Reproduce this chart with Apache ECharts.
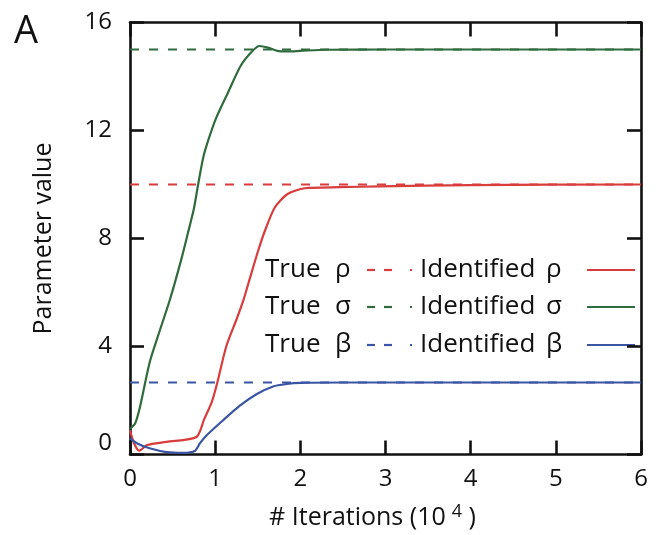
<!DOCTYPE html>
<html><head><meta charset="utf-8">
<script src="https://cdn.jsdelivr.net/npm/echarts@6/dist/echarts.min.js"></script>
<style>html,body{margin:0;padding:0;background:#fff}#c{width:666px;height:535px}</style>
</head><body><div id="c"></div>
<script>
// ---- data ----
const xTicks = [0, 1, 2, 3, 4, 5, 6];
const yTicks = [0, 4, 8, 12, 16];
const trueRho = 10, trueSigma = 15, trueBeta = 8 / 3;
const sigmaX = [0, 0.06, 0.12, 0.23, 0.33, 0.47, 0.6, 0.68, 0.75, 0.8, 0.86, 0.92, 1.01, 1.15, 1.3, 1.44, 1.52, 1.62, 1.73, 1.85, 2.0, 2.3, 3, 4, 5, 6];
const sigmaY = [0.96, 1.15, 1.8, 3.4, 4.4, 5.75, 7.2, 8.2, 9.1, 10.0, 11.0, 11.65, 12.45, 13.4, 14.4, 14.95, 15.13, 15.07, 14.95, 14.93, 14.95, 14.99, 15, 15, 15, 15];
const rhoX = [0, 0.05, 0.11, 0.2, 0.43, 0.78, 0.87, 0.96, 1.02, 1.13, 1.25, 1.33, 1.41, 1.5, 1.58, 1.7, 1.85, 2.05, 2.46, 2.93, 4, 6];
const rhoY = [0.9, 0.4, 0.14, 0.35, 0.47, 0.65, 1.3, 1.94, 2.6, 4.0, 5.0, 5.7, 6.55, 7.5, 8.25, 9.15, 9.65, 9.86, 9.9, 9.93, 9.98, 10];
const betaX = [0, 0.08, 0.23, 0.43, 0.62, 0.76, 0.82, 0.9, 1.09, 1.29, 1.49, 1.68, 1.84, 2.0, 2.5, 6];
const betaY = [0.6, 0.42, 0.23, 0.09, 0.06, 0.13, 0.41, 0.71, 1.26, 1.81, 2.24, 2.52, 2.61, 2.65, 2.667, 2.667];

const RED = '#d83c3c', GREEN = '#2f6b3c', BLUE = '#3a55a3';
const FONT = '"Open Sans", "Noto Sans", sans-serif';
const zip = (a, b) => a.map((v, i) => [v, b[i]]);
const flat = v => [[xTicks[0], v], [xTicks[xTicks.length - 1], v]];

const chart = echarts.init(document.getElementById('c'), null, {renderer: 'canvas'});
const mkLine = () => ({show: true, onZero: false, lineStyle: {color: '#111', width: 2.6}});
const mkTick = () => ({show: true, inside: true, length: 14, lineStyle: {color: '#111', width: 2.6}});

function solid(name, data, color) {
  return {name, type: 'line', data, showSymbol: false, smooth: 0.25, z: 3,
    lineStyle: {color, width: 2.2}};
}
function dashed(name, v, color) {
  return {name, type: 'line', data: flat(v), showSymbol: false, z: 4,
    lineStyle: {color, width: 2.2, type: [9, 10]}};
}

// legend drawn with graphic elements
const rows = [
  {g: 'ρ', c: RED, y: 270},
  {g: 'σ', c: GREEN, y: 307},
  {g: 'β', c: BLUE, y: 345}
];
const graphic = [{type: 'text', left: 14, top: 13, style: {text: 'A', font: '38px ' + FONT, fill: '#111'}}];
rows.forEach(r => {
  const ts = {font: '26px ' + FONT, fill: '#111', textVerticalAlign: 'middle'};
  graphic.push({type: 'text', x: 265, y: r.y, style: Object.assign({text: 'True'}, ts)});
  graphic.push({type: 'text', x: 335, y: r.y, style: Object.assign({text: r.g}, ts)});
  graphic.push({type: 'text', x: 420, y: r.y, style: Object.assign({text: 'Identified'}, ts)});
  graphic.push({type: 'text', x: 546, y: r.y, style: Object.assign({text: r.g}, ts)});
  graphic.push({type: 'line', shape: {x1: 367, y1: r.y, x2: 375, y2: r.y}, style: {stroke: r.c, lineWidth: 2.2}});
  graphic.push({type: 'line', shape: {x1: 384, y1: r.y, x2: 392, y2: r.y}, style: {stroke: r.c, lineWidth: 2.2}});
  graphic.push({type: 'line', shape: {x1: 410, y1: r.y, x2: 412, y2: r.y}, style: {stroke: r.c, lineWidth: 2.2}});
  graphic.push({type: 'line', shape: {x1: 587, y1: r.y, x2: 635, y2: r.y}, style: {stroke: r.c, lineWidth: 2.2}});
});

chart.setOption({
  animation: false,
  backgroundColor: '#fff',
  textStyle: {fontFamily: FONT},
  grid: {left: 130, width: 511, top: 22.5, height: 437},
  xAxis: [{
    type: 'value', min: 0, max: 6, interval: 1,
    axisLine: mkLine(), axisTick: mkTick(), splitLine: {show: false},
    axisLabel: {color: '#111', fontSize: 24, margin: 13, fontFamily: FONT},
    name: '# Iterations (10{sup|4} )', nameLocation: 'middle', nameGap: 48,
    nameTextStyle: {color: '#111', fontSize: 25, fontFamily: FONT, padding: [0, 26, 0, 0],
      rich: {sup: {fontSize: 18, fontFamily: FONT, color: '#111', padding: [0, 0, 12, 6]}}}
  }, {
    type: 'value', min: 0, max: 6, interval: 1, position: 'top',
    axisLine: mkLine(), axisTick: mkTick(), axisLabel: {show: false}, splitLine: {show: false}
  }],
  yAxis: [{
    type: 'value', min: 0, max: 16, interval: 4,
    axisLine: mkLine(), axisTick: mkTick(), splitLine: {show: false},
    axisLabel: {color: '#111', fontSize: 24, margin: 18, fontFamily: FONT,
      formatter: v => v === 0 ? '{z|0}' : String(v),
      rich: {z: {fontSize: 24, fontFamily: FONT, color: '#111', padding: [0, 0, 22, 0]}}},
    name: 'Parameter value', nameLocation: 'middle', nameGap: 74,
    nameTextStyle: {color: '#111', fontSize: 25, fontFamily: FONT}
  }, {
    type: 'value', min: 0, max: 16, interval: 4, position: 'right',
    axisLine: mkLine(), axisTick: mkTick(), axisLabel: {show: false}, splitLine: {show: false}
  }],
  series: [
    solid('Identified σ', zip(sigmaX, sigmaY), GREEN),
    solid('Identified ρ', zip(rhoX, rhoY), RED),
    solid('Identified β', zip(betaX, betaY), BLUE),
    dashed('True σ', trueSigma, GREEN),
    dashed('True ρ', trueRho, RED),
    dashed('True β', trueBeta, BLUE)
  ],
  graphic
});
</script></body></html>
